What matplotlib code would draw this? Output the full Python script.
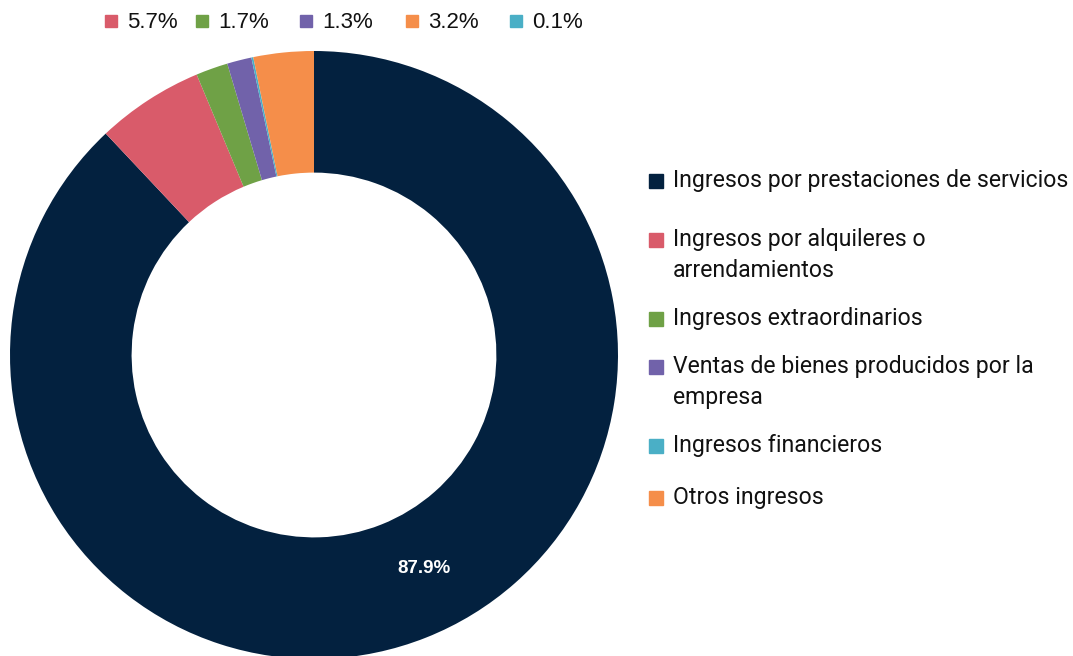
import numpy as np
import matplotlib.pyplot as plt
from matplotlib.patches import Rectangle

categorias = [
    'Ingresos por prestaciones de servicios',
    'Ingresos por alquileres o\narrendamientos',
    'Ingresos extraordinarios',
    'Ventas de bienes producidos por la\nempresa',
    'Ingresos financieros',
    'Otros ingresos',
]
valores = [87.9, 5.7, 1.7, 1.3, 0.1, 3.2]
colores = ['#03213F', '#D95B6A', '#6FA146', '#7162AA', '#4AAFC6', '#F58E4A']

# etiquetas de arriba (orden como en el original)
top_idx = [1, 2, 3, 5, 4]

W, H = 1073, 656
fig = plt.figure(figsize=(W / 100, H / 100), dpi=100)

# donut
cx, cy, r = 314, 355, 304
ax = fig.add_axes([(cx - r) / W, (H - cy - r) / H, 2 * r / W, 2 * r / H])
wedges, _ = ax.pie(
    valores,
    colors=colores,
    startangle=90,
    counterclock=False,
    radius=1,
    wedgeprops=dict(width=0.4, linewidth=0),
)
ax.set_xlim(-1, 1)
ax.set_ylim(-1, 1)
ax.set_aspect('equal')
ax.axis('off')

# etiqueta del segmento grande
w0 = wedges[0]
ang = np.deg2rad((w0.theta1 + w0.theta2) / 2 + 5.7)
ax.text(0.79 * np.cos(ang), 0.79 * np.sin(ang), f'{valores[0]}%',
        color='white', fontsize=13.5, fontweight='bold',
        family='Liberation Sans', ha='center', va='center')

# leyenda de arriba
sq_x = [111, 202, 306, 412, 516]
for i, x in zip(top_idx, sq_x):
    fig.patches.append(Rectangle(((x - 6) / W, (H - 27) / H), 12 / W, 12 / H,
                                 color=colores[i], transform=fig.transFigure))
    fig.text((x + 16) / W, (H - 22) / H, f'{valores[i]}%', fontsize=16,
             family='Liberation Sans', va='center', ha='left', color='#111111')

# leyenda derecha
leg_y = [181, 240, 319, 367, 446, 498]
for lab, col, y in zip(categorias, colores, leg_y):
    fig.patches.append(Rectangle((649 / W, (H - y - 7) / H), 14 / W, 14 / H,
                                 color=col, transform=fig.transFigure))
    fig.text(673 / W, (H - y + 12) / H, lab, fontsize=16.6, family='Roboto',
             va='top', ha='left', color='#111111', linespacing=1.42)

fig.savefig('out.png', dpi=100)
